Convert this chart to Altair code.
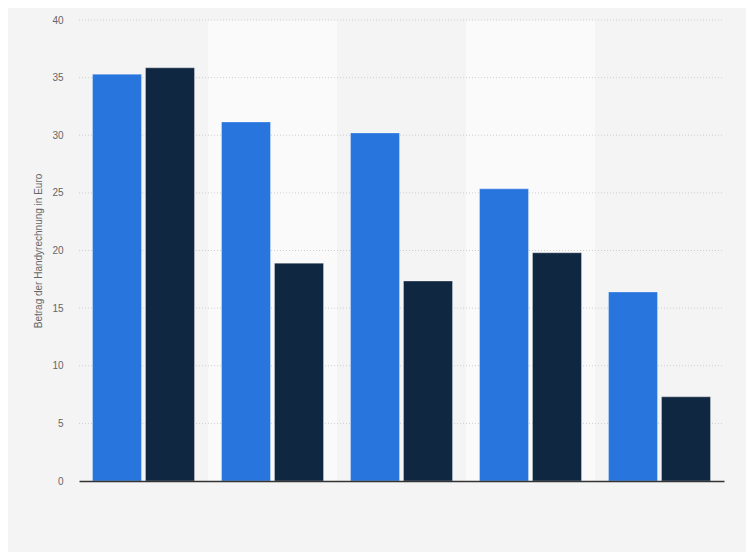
import altair as alt
import pandas as pd

groups = ["1", "2", "3", "4", "5"]
series = ["Serie A", "Serie B"]
values_a = [35.3, 31.15, 30.2, 25.35, 16.4]
values_b = [35.85, 18.9, 17.35, 19.8, 7.3]
grid_values = [5, 10, 15, 20, 25, 30, 35, 40]
band_colors = ["#f4f4f4", "#fafafa", "#f4f4f4", "#fafafa", "#f4f4f4"]

rows = []
for g, a, b in zip(groups, values_a, values_b):
    rows.append({"group": g, "series": series[0], "value": a})
    rows.append({"group": g, "series": series[1], "value": b})
df = pd.DataFrame(rows)
bands = pd.DataFrame({"group": groups, "bg": band_colors})
grid = pd.DataFrame({"y": grid_values})

W, H = 645, 461

xscale = alt.Scale(domain=groups, paddingInner=0, paddingOuter=0)
yscale = alt.Scale(domain=[0, 40], nice=False)

bg = alt.Chart(bands).mark_rect().encode(
    x=alt.X("group:N", scale=xscale, sort=groups,
            axis=alt.Axis(labels=False, ticks=False, title=None,
                          domainColor="#333333", domainWidth=1.5)),
    y=alt.value(0),
    y2=alt.value(H),
    color=alt.Color("bg:N", scale=None),
)

rules = alt.Chart(grid).mark_rule(color="#cfcfcf", strokeDash=[1, 2], strokeWidth=1).encode(
    y=alt.Y("y:Q", scale=yscale),
    x=alt.value(0),
    x2=alt.value(W),
)

bars = alt.Chart(df).mark_bar(stroke="#ffffff", strokeWidth=1, strokeOpacity=0.3).encode(
    x=alt.X("group:N", scale=xscale, sort=groups),
    xOffset=alt.XOffset("series:N", sort=series,
                        scale=alt.Scale(paddingInner=0.0755, paddingOuter=0.255)),
    y=alt.Y("value:Q", scale=yscale,
            axis=alt.Axis(title="Betrag der Handyrechnung in Euro", values=[0, 5, 10, 15, 20, 25, 30, 35, 40],
                          grid=False, domain=False, ticks=False, labelPadding=16,
                          labelColor="#666666", labelFontSize=10, labelFont="Liberation Sans",
                          titleColor="#666666", titleFontSize=10, titleFont="Liberation Sans",
                          titleFontWeight="normal", titlePadding=8)),
    color=alt.Color("series:N", sort=series,
                    scale=alt.Scale(domain=series, range=["#2876dd", "#0f2740"]), legend=None),
)

chart = alt.layer(bg, rules, bars).properties(
    width=W, height=H,
    background="#f4f4f4",
    padding={"left": 71, "top": 12, "right": 22, "bottom": 71},
    autosize=alt.AutoSizeParams(type="none"),
).configure_view(stroke=None)

chart.save("out.html", embed_options={"renderer": "svg", "actions": False})
